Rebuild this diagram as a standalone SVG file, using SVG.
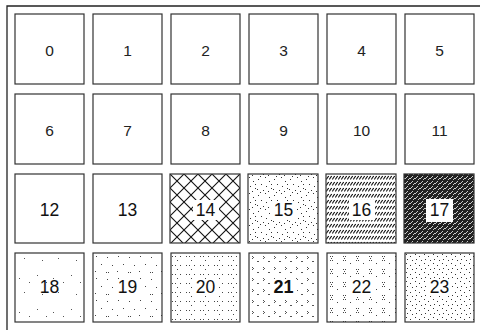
<svg xmlns="http://www.w3.org/2000/svg" width="480" height="330" viewBox="0 0 480 330">
<style>
.b{stroke:#333;stroke-width:1.2}
.t{font-family:"Liberation Sans",Arial,sans-serif;font-size:15.5px;fill:#222;text-anchor:middle}
.t2{font-size:17.5px;fill:#111}
.w{fill:#fff}
</style>
<defs>
<pattern id="p14" patternUnits="userSpaceOnUse" width="14" height="14" x="170" y="174">
<path d="M-1,-1 L15,15 M15,-1 L-1,15" stroke="#111" stroke-width="1.1" fill="none"/>
</pattern>
<pattern id="p15" patternUnits="userSpaceOnUse" width="16" height="16">
<g fill="#333"><rect x="2" y="3" width="1" height="1"/><rect x="9" y="1" width="1" height="1"/><rect x="13" y="5" width="1" height="1"/><rect x="5" y="8" width="1" height="1"/><rect x="10" y="10" width="1" height="1"/><rect x="15" y="12" width="1" height="1"/><rect x="1" y="13" width="1" height="1"/><rect x="7" y="14" width="1" height="1"/><rect x="12" y="15" width="1" height="1"/><rect x="15" y="8" width="1" height="1"/><rect x="4" y="0" width="1" height="1"/></g>
</pattern>
<pattern id="p16" patternUnits="userSpaceOnUse" width="3" height="6" x="326" y="175">
<path d="M0.3,4.5 L2.6,1" stroke="#111" stroke-width="1.1" fill="none"/>
</pattern>
<pattern id="p17" patternUnits="userSpaceOnUse" width="5" height="5">
<rect width="5" height="5" fill="#222"/>
<path d="M0,4 L3,1 M3,5 L5,3" stroke="#ccc" stroke-width="1" fill="none"/>
</pattern>
<pattern id="p18" patternUnits="userSpaceOnUse" width="34" height="34" x="15" y="253">
<g fill="#555"><rect x="9" y="5" width="1" height="1"/><rect x="27" y="7" width="1" height="1"/><rect x="22" y="22" width="1" height="1"/><rect x="4" y="25" width="1" height="1"/><rect x="14" y="29" width="1" height="1"/><rect x="31" y="29" width="1" height="1"/></g>
</pattern>
<pattern id="p19" patternUnits="userSpaceOnUse" width="22" height="22" x="93" y="253">
<g fill="#444"><rect x="3" y="3" width="1" height="1"/><rect x="14" y="4" width="1" height="1"/><rect x="8" y="11" width="1" height="1"/><rect x="19" y="12" width="1" height="1"/><rect x="2" y="18" width="1" height="1"/><rect x="13" y="19" width="1" height="1"/><rect x="15" y="19" width="1" height="1"/></g>
</pattern>
<pattern id="p20" patternUnits="userSpaceOnUse" width="14" height="9" x="171" y="254">
<g fill="#444"><rect x="1" y="2" width="1" height="1"/><rect x="4" y="2" width="1" height="1"/><rect x="9" y="2" width="1" height="1"/><rect x="6" y="6" width="1" height="1"/></g>
</pattern>
<pattern id="p21" patternUnits="userSpaceOnUse" width="11" height="11" x="249" y="253">
<g fill="#555"><rect x="3" y="3" width="1" height="1"/><rect x="4" y="4" width="1" height="1"/><rect x="3" y="5" width="1" height="1"/><rect x="8" y="8" width="2" height="1"/></g>
</pattern>
<pattern id="p22" patternUnits="userSpaceOnUse" width="13" height="13" x="327" y="253">
<g fill="#444"><rect x="3" y="3" width="1" height="1"/><rect x="5" y="3" width="1" height="1"/><rect x="4" y="5" width="1" height="1"/><rect x="3" y="7" width="1" height="1"/><rect x="5" y="7" width="1" height="1"/><rect x="10" y="10" width="1" height="1"/></g>
</pattern>
<pattern id="p23" patternUnits="userSpaceOnUse" width="9" height="9" x="405" y="253">
<g fill="#333"><rect x="1" y="1" width="1" height="1"/><rect x="5" y="3" width="1" height="1"/><rect x="2" y="6" width="1" height="1"/><rect x="7" y="7" width="1" height="1"/></g>
</pattern>
</defs>
<path d="M7,330 V6 H480" fill="none" stroke="#222" stroke-width="1.3"/>
<g id="connectors"/>
<g id="n0"><rect class="b" x="15" y="14" width="69" height="70" fill="#fff"/><text class="t" x="49.5" y="56">0</text></g>
<g id="n1"><rect class="b" x="93" y="14" width="69" height="70" fill="#fff"/><text class="t" x="127.5" y="56">1</text></g>
<g id="n2"><rect class="b" x="171" y="14" width="69" height="70" fill="#fff"/><text class="t" x="205.5" y="56">2</text></g>
<g id="n3"><rect class="b" x="249" y="14" width="69" height="70" fill="#fff"/><text class="t" x="283.5" y="56">3</text></g>
<g id="n4"><rect class="b" x="327" y="14" width="69" height="70" fill="#fff"/><text class="t" x="361.5" y="56">4</text></g>
<g id="n5"><rect class="b" x="405" y="14" width="69" height="70" fill="#fff"/><text class="t" x="439.5" y="56">5</text></g>
<g id="n6"><rect class="b" x="15" y="94" width="69" height="70" fill="#fff"/><text class="t" x="49.5" y="136">6</text></g>
<g id="n7"><rect class="b" x="93" y="94" width="69" height="70" fill="#fff"/><text class="t" x="127.5" y="136">7</text></g>
<g id="n8"><rect class="b" x="171" y="94" width="69" height="70" fill="#fff"/><text class="t" x="205.5" y="136">8</text></g>
<g id="n9"><rect class="b" x="249" y="94" width="69" height="70" fill="#fff"/><text class="t" x="283.5" y="136">9</text></g>
<g id="n10"><rect class="b" x="327" y="94" width="69" height="70" fill="#fff"/><text class="t" x="361.5" y="136">10</text></g>
<g id="n11"><rect class="b" x="405" y="94" width="69" height="70" fill="#fff"/><text class="t" x="439.5" y="136">11</text></g>
<g id="n12"><rect class="b" x="15" y="174" width="69" height="69" fill="#fff"/><text class="t t2" x="49.5" y="216">12</text></g>
<g id="n13"><rect class="b" x="93" y="174" width="69" height="69" fill="#fff"/><text class="t t2" x="127.5" y="216">13</text></g>
<g id="n14"><rect class="b" x="170" y="174" width="70" height="69" fill="url(#p14)"/><rect class="w" x="193" y="200" width="26" height="20"/><text class="t t2" x="205.5" y="216">14</text></g>
<g id="n15"><rect class="b" x="248" y="174" width="70" height="69" fill="url(#p15)"/><rect class="w" x="271" y="201" width="26" height="18"/><text class="t t2" x="283.5" y="216">15</text></g>
<g id="n16"><rect class="b" x="326" y="174" width="70" height="69" fill="url(#p16)"/><rect class="w" x="349" y="200" width="26" height="20"/><text class="t t2" x="361.5" y="216">16</text></g>
<g id="n17"><rect class="b" x="404" y="174" width="70" height="69" fill="url(#p17)"/><rect class="w" x="426" y="199" width="27" height="23"/><text class="t t2" x="439.5" y="216">17</text></g>
<g id="n18"><rect class="b" x="15" y="253" width="69" height="69" fill="url(#p18)"/><text class="t t2" x="49.5" y="293">18</text></g>
<g id="n19"><rect class="b" x="93" y="253" width="69" height="69" fill="url(#p19)"/><rect class="w" x="115" y="279" width="25" height="17"/><text class="t t2" x="127.5" y="293">19</text></g>
<g id="n20"><rect class="b" x="171" y="253" width="69" height="69" fill="url(#p20)"/><rect class="w" x="193" y="279" width="25" height="17"/><text class="t t2" x="205.5" y="293">20</text></g>
<g id="n21"><rect class="b" x="249" y="253" width="69" height="69" fill="url(#p21)"/><rect class="w" x="270" y="279" width="27" height="17"/><text class="t t2" x="283.5" y="293" font-weight="bold" style="font-size:18px">21</text></g>
<g id="n22"><rect class="b" x="327" y="253" width="69" height="69" fill="url(#p22)"/><rect class="w" x="349" y="279" width="25" height="17"/><text class="t t2" x="361.5" y="293">22</text></g>
<g id="n23"><rect class="b" x="405" y="253" width="69" height="69" fill="url(#p23)"/><rect class="w" x="427" y="279" width="25" height="17"/><text class="t t2" x="439.5" y="293">23</text></g>
</svg>
